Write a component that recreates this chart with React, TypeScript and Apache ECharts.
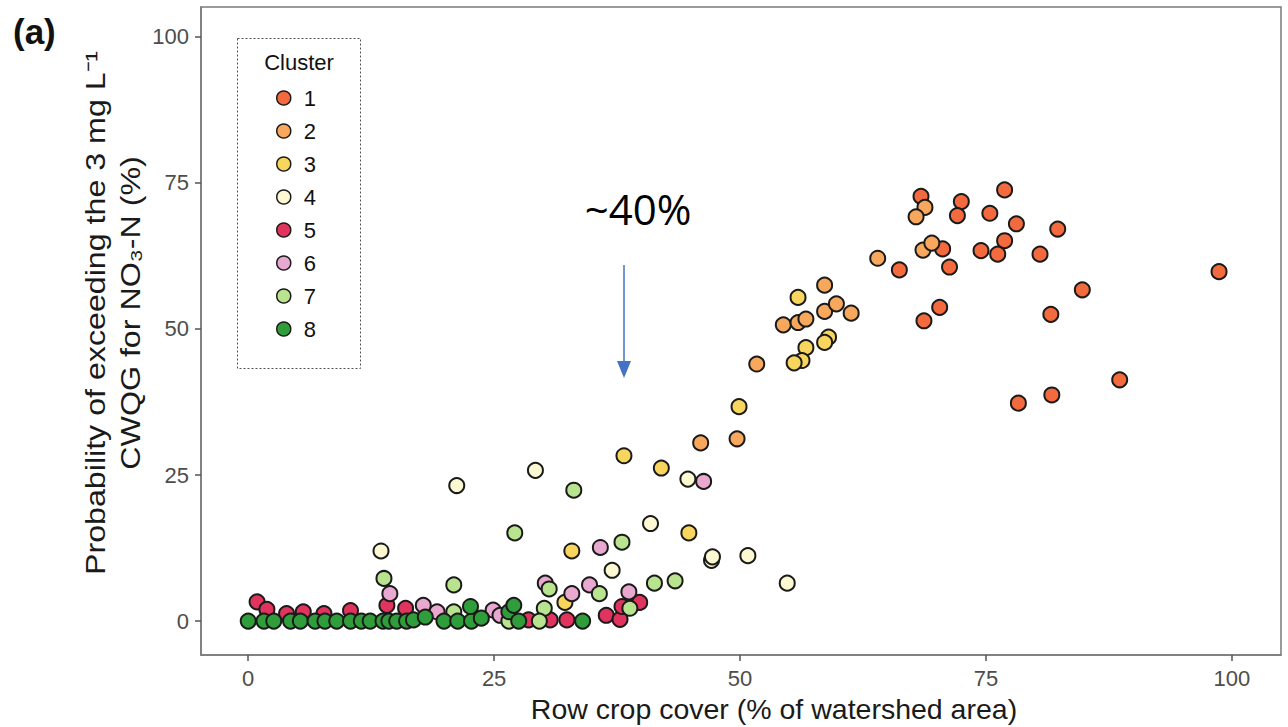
import React, { useEffect, useRef } from "react";
import * as echarts from "echarts";

const clusterNames = ["1", "2", "3", "4", "5", "6", "7", "8"];
const clusterColors = ["#F26A3D", "#F8A85C", "#F8D55C", "#FBF8D2", "#E0345E", "#E8A8CF", "#B8E38F", "#2F9E3A"];

const cluster1 = [
  [68.4, 72.7], [72.5, 71.8], [72.1, 69.4], [76.9, 73.8], [75.4, 69.8], [78.1, 68.0], [82.3, 67.1],
  [76.9, 65.1], [74.5, 63.4], [76.2, 62.8], [80.5, 62.8], [70.6, 63.7], [71.3, 60.6], [66.2, 60.1],
  [70.3, 53.7], [68.7, 51.4], [81.6, 52.5], [84.8, 56.7], [78.3, 37.3], [81.7, 38.7], [88.6, 41.3],
  [98.7, 59.8],
];
const cluster2 = [
  [68.8, 70.8], [67.9, 69.2], [68.6, 63.5], [69.5, 64.7], [64.0, 62.1], [58.6, 57.5], [54.4, 50.7],
  [55.9, 51.1], [56.7, 51.7], [58.6, 53.0], [59.8, 54.3], [61.3, 52.7], [51.7, 44.0], [49.7, 31.2],
  [46.0, 30.5],
];
const cluster3 = [
  [55.9, 55.4], [59.0, 48.6], [58.6, 47.7], [56.7, 46.8], [56.3, 44.6], [55.5, 44.2], [49.9, 36.7],
  [38.2, 28.3], [42.0, 26.2], [44.8, 15.1], [32.9, 12.0], [32.2, 3.2],
];
const cluster4 = [
  [29.2, 25.8], [21.2, 23.2], [44.7, 24.3], [40.9, 16.7], [37.0, 8.7], [47.1, 10.4], [47.2, 11.0],
  [50.8, 11.2], [54.8, 6.5], [13.5, 12.0],
];
const cluster5 = [
  [0.9, 3.3], [1.9, 2.0], [3.9, 1.3], [5.6, 1.6], [7.7, 1.3], [10.4, 1.8], [14.1, 2.7], [16.0, 2.2],
  [28.5, 0.2], [30.7, 0.2], [32.4, 0.2], [36.4, 1.0], [37.8, 0.3], [38.0, 2.5], [39.8, 3.2],
];
const cluster6 = [
  [14.4, 4.7], [17.8, 2.7], [19.2, 1.6], [24.9, 1.9], [25.6, 1.0], [30.2, 6.5], [32.9, 4.7],
  [34.7, 6.2], [35.8, 12.6], [38.7, 5.0], [46.3, 23.9],
];
const cluster7 = [
  [13.8, 7.3], [20.9, 6.2], [20.9, 1.6], [27.1, 15.1], [33.1, 22.4], [38.0, 13.5], [30.6, 5.5],
  [30.1, 2.2], [29.6, 0.0], [26.5, 0.0], [35.7, 4.7], [38.8, 2.2], [41.3, 6.5], [43.4, 6.9],
];
const cluster8 = [
  [0, 0], [1.6, 0], [2.6, 0], [4.3, 0], [5.3, 0], [6.8, 0], [7.8, 0], [9.0, 0], [10.4, 0], [11.5, 0],
  [12.4, 0], [13.7, 0], [14.3, 0], [15.1, 0], [16.1, 0], [16.8, 0.2], [18.0, 0.7], [19.9, 0], [21.3, 0],
  [22.7, 0], [22.6, 2.5], [23.7, 0.5], [26.5, 1.6], [27.0, 2.7], [27.5, 0], [34.0, 0],
];
const clusterData = [cluster1, cluster2, cluster3, cluster4, cluster5, cluster6, cluster7, cluster8];

const xTicks = [0, 25, 50, 75, 100];
const yTicks = [0, 25, 50, 75, 100];

const xTitle = "Row crop cover (% of watershed area)";
const yTitle1 = "Probability of exceeding the 3 mg L\u207B\u00B9";
const yTitle2 = "CWQG for NO\u2083-N (%)";
const panelLabel = "(a)";
const annotation = "~40%";
const legendTitle = "Cluster";

const FONT = "'Liberation Sans', Arial, Helvetica, sans-serif";

export default function App() {
  const ref = useRef<HTMLDivElement>(null);
  useEffect(() => {
    const chart = echarts.init(ref.current!, null, { renderer: "svg" });
    const axisCommon = {
      type: "value",
      splitLine: { show: false },
      axisLine: { show: true, onZero: false, lineStyle: { color: "#7a7a7a", width: 1.5 } },
      axisTick: { show: true, length: 6, lineStyle: { color: "#555", width: 1.5 } },
    };
    chart.setOption({
      animation: false,
      backgroundColor: "#ffffff",
      textStyle: { fontFamily: FONT },
      grid: {
        left: 201, right: 7, top: 7, bottom: 72,
        show: true, borderColor: "#7a7a7a", borderWidth: 1.5, backgroundColor: "transparent",
      },
      xAxis: {
        ...axisCommon,
        min: -4.8, max: 105,
        axisTick: { ...axisCommon.axisTick, customValues: xTicks },
        axisLabel: { customValues: xTicks, fontSize: 22, color: "#4d4d4d", margin: 12, fontFamily: FONT },
      },
      yAxis: {
        ...axisCommon,
        min: -5.8, max: 105.1,
        axisTick: { ...axisCommon.axisTick, customValues: yTicks },
        axisLabel: { customValues: yTicks, fontSize: 22, color: "#4d4d4d", margin: 12, fontFamily: FONT },
      },
      legend: {
        orient: "vertical",
        left: 271,
        top: 82,
        itemWidth: 14,
        itemHeight: 14,
        itemGap: 11,
        icon: "circle",
        selectedMode: false,
        data: clusterNames,
        textStyle: { fontSize: 22, lineHeight: 22, color: "#111", fontFamily: FONT, padding: [0, 0, 0, 8] },
        itemStyle: { borderWidth: 1.5 },
      },
      graphic: [
        {
          type: "rect",
          shape: { x: 237.5, y: 38.5, width: 123, height: 330 },
          style: { fill: "none", stroke: "#555", lineWidth: 1, lineDash: [2, 2] },
        },
        {
          type: "text", x: 299, y: 62,
          style: { text: legendTitle, fontSize: 22, fill: "#111", align: "center", verticalAlign: "middle", fontFamily: FONT },
        },
        {
          type: "text", x: 13, y: 31,
          style: { text: panelLabel, fontSize: 35, fontWeight: "bold", fill: "#111", align: "left", verticalAlign: "middle", fontFamily: FONT },
        },
        {
          type: "text", x: 95, y: 313, rotation: Math.PI / 2, scaleX: 1.15,
          style: { text: yTitle1, fontSize: 28, fill: "#1a1a1a", align: "center", verticalAlign: "middle", fontFamily: FONT },
        },
        {
          type: "text", x: 130, y: 313, rotation: Math.PI / 2, scaleX: 1.15,
          style: { text: yTitle2, fontSize: 28, fill: "#1a1a1a", align: "center", verticalAlign: "middle", fontFamily: FONT },
        },
        {
          type: "text", x: 774, y: 709,
          style: { text: xTitle, fontSize: 28.5, fill: "#1a1a1a", align: "center", verticalAlign: "middle", fontFamily: FONT },
        },
        {
          type: "text", x: 638, y: 208,
          style: { text: annotation, fontSize: 42, fill: "#000", align: "center", verticalAlign: "middle", fontFamily: "'Open Sans', 'Noto Sans', sans-serif" },
        },
        {
          type: "line",
          shape: { x1: 624, y1: 265, x2: 624, y2: 364 },
          style: { stroke: "#4472C4", lineWidth: 1.5 },
        },
        {
          type: "polygon",
          shape: { points: [[617, 361], [631, 361], [624, 378]] },
          style: { fill: "#4472C4" },
        },
      ],
      series: clusterData.map((d, i) => ({
        type: "scatter",
        name: clusterNames[i],
        data: d,
        symbol: "circle",
        symbolSize: 15,
        itemStyle: { color: clusterColors[i], borderColor: "#1a1a1a", borderWidth: 2, opacity: 1 },
        emphasis: { disabled: true },
      })),
    });
    return () => chart.dispose();
  }, []);
  return (
    <div
      ref={ref}
      style={{ position: "fixed", left: 0, top: 0, width: 1288, height: 727, background: "#fff" }}
    />
  );
}
